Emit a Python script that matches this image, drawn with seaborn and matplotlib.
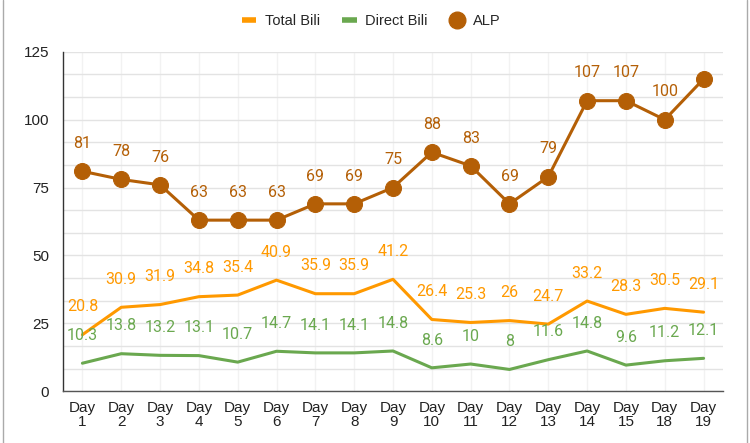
import numpy as np
import pandas as pd
import matplotlib
matplotlib.use("Agg")
import matplotlib.pyplot as plt
import seaborn as sns
from matplotlib.lines import Line2D
from matplotlib.ticker import MultipleLocator

days = ["Day\n1", "Day\n2", "Day\n3", "Day\n4", "Day\n5", "Day\n6", "Day\n7", "Day\n8",
        "Day\n9", "Day\n10", "Day\n11", "Day\n12", "Day\n13", "Day\n14", "Day\n15",
        "Day\n18", "Day\n19"]
total_bili = [20.8, 30.9, 31.9, 34.8, 35.4, 40.9, 35.9, 35.9, 41.2, 26.4, 25.3, 26, 24.7,
              33.2, 28.3, 30.5, 29.1]
direct_bili = [10.3, 13.8, 13.2, 13.1, 10.7, 14.7, 14.1, 14.1, 14.8, 8.6, 10, 8, 11.6,
               14.8, 9.6, 11.2, 12.1]
alp = [81, 78, 76, 63, 63, 63, 69, 69, 75, 88, 83, 69, 79, 107, 107, 100, 115]
alp_shown = [True] * 16 + [False]

ORANGE = "#ff9900"
GREEN = "#6aa84f"
BROWN = "#b45f06"

sns.set_theme(style="white")
plt.rcParams['font.family'] = ['Liberation Sans', 'DejaVu Sans']

fig = plt.figure(figsize=(7.5, 4.43), dpi=100)
ax = fig.add_axes([0.084, 0.117, 0.880, 0.766])

df = pd.DataFrame({"pos": np.arange(len(days)), "day": days,
                   "Total Bili": total_bili, "Direct Bili": direct_bili, "ALP": alp})

sns.lineplot(data=df, x="pos", y="Total Bili", color=ORANGE, lw=2.2, ax=ax, zorder=3)
sns.lineplot(data=df, x="pos", y="Direct Bili", color=GREEN, lw=2.2, ax=ax, zorder=3)
sns.lineplot(data=df, x="pos", y="ALP", color=BROWN, lw=2.2, marker="o", markersize=11.5,
             markeredgecolor=BROWN, ax=ax, zorder=4)

lab_font = dict(family=["Roboto", "DejaVu Sans"], fontsize=11.5)

def fmt(v):
    return f"{v:g}"

for i, v in enumerate(total_bili):
    ax.annotate(fmt(v), (i, v), xytext=(0, 20), textcoords="offset points",
                ha="center", va="center", color=ORANGE, zorder=5, **lab_font)
for i, v in enumerate(direct_bili):
    ax.annotate(fmt(v), (i, v), xytext=(0, 20), textcoords="offset points",
                ha="center", va="center", color=GREEN, zorder=5, **lab_font)
for i, (v, s) in enumerate(zip(alp, alp_shown)):
    if s:
        ax.annotate(fmt(v), (i, v), xytext=(0, 20), textcoords="offset points",
                    ha="center", va="center", color=BROWN, zorder=5, **lab_font)

ax.set_xlim(-0.5, len(days) - 0.5)
ax.set_ylim(0, 125)
ax.set_xticks(np.arange(len(days)))
ax.set_xticklabels(days, fontsize=11, color="#222222", linespacing=1.0)
ax.yaxis.set_major_locator(MultipleLocator(25))
ax.yaxis.set_minor_locator(MultipleLocator(25 / 3))
ax.tick_params(axis="y", which="major", direction="inout", length=12, width=1,
               color="#333333", labelsize=11, labelcolor="#222222", pad=4)
ax.tick_params(axis="y", which="minor", direction="in", length=6.5, width=1, color="#333333")
ax.tick_params(axis="x", length=0, pad=7)
ax.set_xlabel("")
ax.set_ylabel("")

ax.grid(axis="y", which="both", color="#e3e3e3", lw=1, zorder=0)
ax.grid(axis="x", which="major", color="#f2f2f2", lw=1, zorder=0)
ax.set_axisbelow(True)

for s in ["top", "right"]:
    ax.spines[s].set_visible(False)
ax.spines["left"].set_color("#333333")
ax.spines["bottom"].set_color("#555555")
ax.spines["left"].set_linewidth(1)
ax.spines["bottom"].set_linewidth(1)

handles = [
    Line2D([], [], color=ORANGE, lw=4, solid_capstyle="butt"),
    Line2D([], [], color=GREEN, lw=4, solid_capstyle="butt"),
    Line2D([], [], color=BROWN, lw=0, marker="o", markersize=12),
]
fig.legend(handles, ["Total Bili", "Direct Bili", "ALP"], loc="center",
           bbox_to_anchor=(0.495, 0.953), ncol=3, frameon=False, fontsize=10.5,
           handlelength=1.0, handletextpad=0.6, columnspacing=1.5)

fig.add_artist(Line2D([0.004, 0.004], [0, 1], transform=fig.transFigure, color="#aaaaaa", lw=1))
fig.add_artist(Line2D([0.996, 0.996], [0, 1], transform=fig.transFigure, color="#aaaaaa", lw=1))

fig.savefig("out.png", dpi=100)
